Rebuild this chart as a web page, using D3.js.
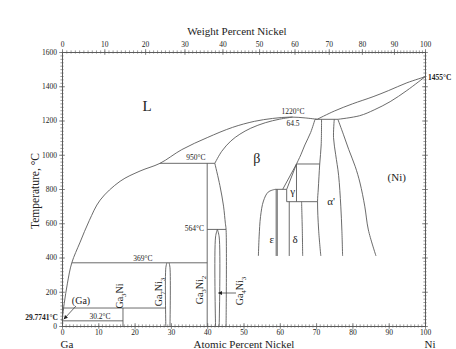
<!DOCTYPE html>
<html><head><meta charset="utf-8">
<script src="https://cdn.jsdelivr.net/npm/d3@7"></script>
<style>
body{margin:0;background:#fff;}
svg{display:block;}
svg text{font-family:"Liberation Serif","Times New Roman",serif !important;fill:#222;}
</style></head>
<body><svg id="c" width="456" height="349"></svg>
<script>
// ---- axis ticks ----
const atTicks = [0,10,20,30,40,50,60,70,80,90,100];
const wtTicks = [0,10,20,30,40,50,60,70,80,90,100];
const tempTicks = [0,200,400,600,800,1000,1200,1400,1600];
const MW_NI = 58.69, MW_GA = 69.72;

// ---- phase boundaries [atomic % Ni, temperature °C] ----
const liquidus = [[0,29.8],[0.6,130],[1.5,250],[2.7,369],[5,490],[7.5,615],[10.5,735],[16,845],[21.5,905],[27,950],[33,1030],[40,1100],[47,1160],[53,1195],[58,1212],[63,1220],[67,1215],[70.3,1207]];
const betaSolidus = [[42.1,950],[44,1020],[46.5,1080],[49,1120],[52,1155],[56,1187],[60,1208],[63.5,1220]];
const betaLeft = [[42.1,950],[43.5,820],[44.5,700],[45,600],[45.2,564],[45.2,0]];
const betaRight = [[69.7,1207],[68.5,1130],[66.9,1057],[65.8,1000],[64.6,946]];
const gammaLeft = [[64.6,946],[60.8,798]];
const gammaLeft2 = [[64.6,946],[61.9,798],[61.9,726]];
const gammaRight = [[64.6,946],[64.6,726]];
const epsDome = [[54.1,409],[54.3,520],[54.7,640],[55.5,730],[56.8,782],[58.7,798]];
const epsLeft = [[59.0,798],[59.0,409]];
const epsRight = [[59.3,798],[59.3,409]];
const deltaLeft = [[62.6,726],[62.6,409]];
const deltaRight = [[66.0,726],[66.2,560],[66.3,409]];
const alphaLeft = [[71.5,1207],[71.4,1057],[71.0,946],[70.6,800],[70.4,726],[70.7,560],[71.3,409]];
const alphaRight = [[75.0,1207],[74.8,1100],[75.4,1000],[76.2,880],[76.8,700],[77.1,560],[77.3,409]];
const niSolvus = [[76,1207],[77.5,1120],[79,1030],[80.8,930],[82.1,835],[83.4,700],[84.4,561],[86.5,409]];
const niLiquidus = [[70.3,1207],[75,1255],[80,1297],[85.7,1339],[90,1375],[95,1420],[100,1455]];
const niSolidus = [[76,1207],[82,1228],[86,1262],[90.4,1310],[95,1375],[100,1455]];
const ga7ni3L = [[28.6,0],[28.6,340],[28.9,369]];
const ga7ni3R = [[29.75,0],[29.75,340],[29.5,369]];
const ga4ni3L = [[42.3,0],[42.3,520],[42.8,564]];
const ga4ni3R = [[43.3,0],[43.3,520],[42.8,564]];
// horizontal invariants [T, xStart, xEnd]
const invariants = [[950,27,42.1],[1207,69.7,76],[946,64.6,71.0],[798,58.7,61.9],[726,61.9,70.4],[564,40,45.2],[369,2.7,40],[105,0.3,28.6],[30.2,0.1,16.8]];
// vertical lines [x, Tlow, Thigh]
const verticals = [[40,0,950],[16.8,0,105]];

// ---- text labels ----
const phaseLabels = [["L",147,1285,15],["β",256.7,980,14],["(Ni)",396.7,870,11],["γ",292.7,790,11],["ε",271.7,510,11],["δ",295,510,11],["α'",331,730,11]];
const tempLabels = [["1220°C",293,1237,"middle"],["64.5",293,1168,"middle"],["950°C",196,968,"middle"],["564°C",204,555,"end"],["369°C",143,377,"middle"],["30.2°C",100,42,"middle"]];

const svg = d3.select("#c");
const x = d3.scaleLinear().domain([0,100]).range([62,425]);
const y = d3.scaleLinear().domain([0,1600]).range([326,52]);
const lineCol = "#5a5a5a";
const FF = '"Liberation Serif","Times New Roman",serif';

// bottom axis (atomic)
const minorAt = d3.range(0,101,1);
const gB = svg.append("g").attr("transform",`translate(0,${y(0)})`);
gB.call(d3.axisBottom(x).tickValues(minorAt).tickFormat("").tickSize(0));
gB.selectAll(".tick line").attr("y1",-1.6).attr("y2",1.6);
const gB2 = gB.append("g").call(d3.axisBottom(x).tickValues(atTicks).tickFormat(d3.format("d")).tickSize(0).tickPadding(4));
gB2.selectAll(".tick line").attr("y1",-3).attr("y2",3);

// top axis (weight %)
function wtToAt(w){ if(w===0) return 0; if(w===100) return 100; const a=w/MW_NI, b=(100-w)/MW_GA; return 100*a/(a+b);}
const minorWt = d3.range(0,101,1);
const gT = svg.append("g").attr("transform",`translate(0,${y(1600)})`);
gT.call(d3.axisTop(x).tickValues(minorWt.map(wtToAt)).tickFormat("").tickSize(0));
gT.selectAll(".tick line").attr("y1",-1.6).attr("y2",1.6);
const gT2 = gT.append("g").call(d3.axisTop(x).tickValues(wtTicks.map(wtToAt)).tickFormat((d,i)=>wtTicks[i]).tickSize(0).tickPadding(5));
gT2.selectAll(".tick line").attr("y1",-3).attr("y2",3);

// left axis
const minorT = d3.range(0,1601,20);
const gL = svg.append("g").attr("transform",`translate(${x(0)},0)`);
gL.call(d3.axisLeft(y).tickValues(minorT).tickFormat("").tickSize(0));
gL.selectAll(".tick line").attr("x1",-1.6).attr("x2",1.6);
const gL2 = gL.append("g").call(d3.axisLeft(y).tickValues(tempTicks).tickFormat(d3.format("d")).tickSize(0).tickPadding(5));
gL2.selectAll(".tick line").attr("x1",-3).attr("x2",3);

// right axis
const gR = svg.append("g").attr("transform",`translate(${x(100)},0)`);
gR.call(d3.axisRight(y).tickValues(minorT).tickFormat("").tickSize(0));
gR.selectAll(".tick line").attr("x1",-1.6).attr("x2",1.6);
const gR2 = gR.append("g").call(d3.axisRight(y).tickValues(tempTicks).tickFormat("").tickSize(0));
gR2.selectAll(".tick line").attr("x1",-3).attr("x2",3);

svg.selectAll("g").attr("font-family",FF);
svg.selectAll(".tick text").style("font-size","7.5px").attr("fill","#444");
svg.selectAll(".domain").attr("stroke",lineCol).attr("stroke-width",0.9);
svg.selectAll(".tick line").attr("stroke",lineCol).attr("stroke-width",0.6);

// axis titles
function txt(xx,yy,s,fs,anchor){ return svg.append("text").attr("x",xx).attr("y",yy).attr("text-anchor",anchor||"middle").style("font-size",fs+"px").text(s); }
txt(237,35,"Weight Percent Nickel",11);
txt(244,348,"Atomic Percent Nickel",11);
txt(67,348,"Ga",11);
txt(430,348,"Ni",11);
svg.append("text").attr("transform","translate(39,191) rotate(-90)").attr("text-anchor","middle").style("font-size","11.5px").text("Temperature, °C");

// boundaries
const smooth = d3.line().x(d=>x(d[0])).y(d=>y(d[1])).curve(d3.curveCatmullRom.alpha(0.5));
const straight = d3.line().x(d=>x(d[0])).y(d=>y(d[1]));
const pl = svg.append("g").attr("fill","none").attr("stroke",lineCol).attr("stroke-width",0.9);
[liquidus,betaSolidus,betaLeft,betaRight,epsDome,deltaRight,alphaLeft,alphaRight,niSolvus,niLiquidus,niSolidus,ga7ni3L,ga7ni3R,ga4ni3L,ga4ni3R].forEach(d=>pl.append("path").attr("d",smooth(d)));
[gammaLeft,gammaLeft2,gammaRight,epsLeft,epsRight,deltaLeft].forEach(d=>pl.append("path").attr("d",straight(d)));
invariants.forEach(([t,a,b])=>pl.append("line").attr("x1",x(a)).attr("x2",x(b)).attr("y1",y(t)).attr("y2",y(t)));
verticals.forEach(([a,t0,t1])=>pl.append("line").attr("x1",x(a)).attr("x2",x(a)).attr("y1",y(t0)).attr("y2",y(t1)));

// phase labels
phaseLabels.forEach(([s,a,t,fs])=>svg.append("text").attr("x",a).attr("y",y(t)).attr("text-anchor","middle").attr("dominant-baseline","central").style("font-size",fs+"px").text(s));
tempLabels.forEach(([s,a,t,anc])=>txt(a,y(t),s,7.5,anc));
txt(428,y(1455)+3,"1455°C",7.5,"start").style("font-weight","bold");
txt(58,y(29.8)-1,"29.7741°C",7.5,"end").style("font-weight","bold");

// compound labels (vertical)
function compound(cx,cy,parts){
  const t = svg.append("text").attr("transform",`translate(${cx},${cy}) rotate(-90)`).attr("text-anchor","middle").style("font-size","10px");
  parts.forEach(([s,sub])=>{ t.append("tspan").attr("baseline-shift",sub?"-3":"0").style("font-size",sub?"7px":"10px").text(s); });
}
compound(123,296,[["Ga",0],["3",1],["Ni",0]]);
compound(162,292,[["Ga",0],["7",1],["Ni",0],["3",1]]);
compound(203,290,[["Ga",0],["3",1],["Ni",0],["2",1]]);
compound(243,291,[["Ga",0],["4",1],["Ni",0],["3",1]]);
txt(81,304,"(Ga)",10);

// arrows
const defs = svg.append("defs");
defs.append("marker").attr("id","ah").attr("viewBox","0 0 10 10").attr("refX",9).attr("refY",5).attr("markerWidth",5).attr("markerHeight",5).attr("orient","auto")
  .append("path").attr("d","M0,0L10,5L0,10z").attr("fill","#222");
svg.append("line").attr("x1",236).attr("y1",293).attr("x2",x(43.1)).attr("y2",293).attr("stroke","#444").attr("stroke-width",0.8).attr("marker-end","url(#ah)");
svg.append("line").attr("x1",76).attr("y1",306).attr("x2",64).attr("y2",319).attr("stroke","#444").attr("stroke-width",0.8).attr("marker-end","url(#ah)");
</script></body></html>
